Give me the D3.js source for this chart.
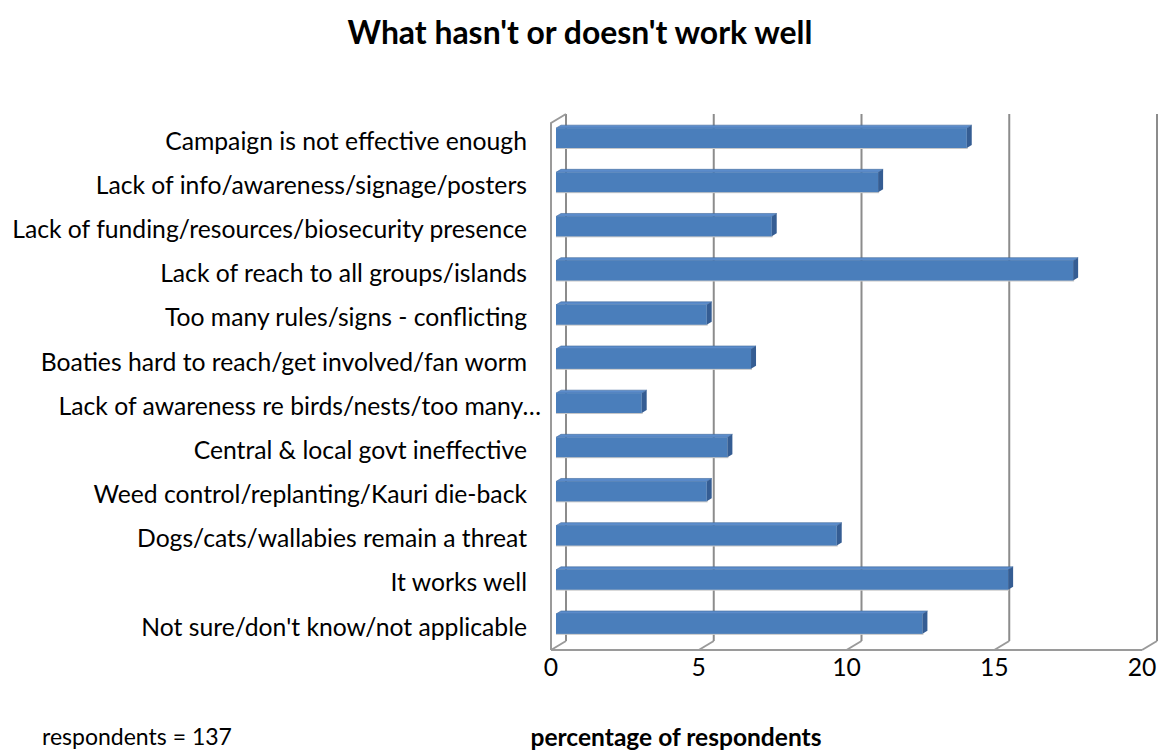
<!DOCTYPE html>
<html><head><meta charset="utf-8">
<script src="https://cdn.jsdelivr.net/npm/d3@7"></script>
<style>html,body{margin:0;padding:0;background:#fff;}svg{display:block;}</style>
</head><body>
<svg id="chart" width="1158" height="751"></svg>
<script>
const title = "What hasn't or doesn't work well";
const categories = [
  "Campaign is not effective enough",
  "Lack of info/awareness/signage/posters",
  "Lack of funding/resources/biosecurity presence",
  "Lack of reach to all groups/islands",
  "Too many rules/signs - conflicting",
  "Boaties hard to reach/get involved/fan worm",
  "Lack of awareness re birds/nests/too many\u2026",
  "Central & local govt ineffective",
  "Weed control/replanting/Kauri die-back",
  "Dogs/cats/wallabies remain a threat",
  "It works well",
  "Not sure/don't know/not applicable"
];
const values = [13.9, 10.9, 7.3, 17.5, 5.1, 6.6, 2.9, 5.8, 5.1, 9.5, 15.3, 12.4];
const tickValues = [0, 5, 10, 15, 20];
const xAxisTitle = "percentage of respondents";
const note = "respondents = 137";

const svg = d3.select("#chart");
const FONT = "Lato, 'Noto Sans', sans-serif";

// geometry
const floorY = 650, topY = 123;
const depth = {dx: 15, dy: -9};
const barOff = {dx: 5, dy: -3};
const barDepth = {dx: 5, dy: -3};
const x = d3.scaleLinear().domain([0, 20]).range([551, 1142]);
const y = d3.scaleBand().domain(categories).range([116, 646]).paddingInner(0.55).paddingOuter(0.275);

const grid = svg.append("g");
grid.selectAll("line.gl").data(tickValues).join("line")
  .attr("x1", d => x(d) + depth.dx).attr("x2", d => x(d) + depth.dx)
  .attr("y1", topY + depth.dy).attr("y2", floorY + depth.dy)
  .attr("stroke", "#8c8c8c").attr("stroke-width", 2);
grid.selectAll("line.fd").data(tickValues).join("line")
  .attr("x1", d => x(d)).attr("y1", floorY)
  .attr("x2", d => x(d) + depth.dx).attr("y2", floorY + depth.dy)
  .attr("stroke", "#9a9a9a").attr("stroke-width", 2);
grid.append("line").attr("x1", x(0)).attr("x2", x(20)).attr("y1", floorY).attr("y2", floorY)
  .attr("stroke", "#9a9a9a").attr("stroke-width", 2);
grid.append("path")
  .attr("d", `M${x(0) + depth.dx},${topY + depth.dy}L${x(0)},${topY}L${x(0)},${floorY}`)
  .attr("fill", "none").attr("stroke", "#9a9a9a").attr("stroke-width", 2);

const bars = svg.append("g").selectAll("g").data(categories).join("g");
const x0 = d => x(0) + barOff.dx;
const x1 = (d, i) => x(values[i]) + barOff.dx;
const yt = d => y(d);
const bw = y.bandwidth();
bars.append("rect")
  .attr("x", d => x0(d)).attr("y", d => yt(d) + 1)
  .attr("width", (d, i) => x1(d, i) - x0(d) + 1).attr("height", bw)
  .attr("fill", "#c8c8c8");
bars.append("path")
  .attr("d", (d, i) => `M${x0(d)},${yt(d)}L${x1(d, i)},${yt(d)}L${x1(d, i) + barDepth.dx},${yt(d) + barDepth.dy}L${x0(d) + barDepth.dx},${yt(d) + barDepth.dy}Z`)
  .attr("fill", "#5b8ccb").attr("stroke", "#41699c").attr("stroke-width", 0.6);
bars.append("path")
  .attr("d", (d, i) => `M${x1(d, i)},${yt(d)}L${x1(d, i) + barDepth.dx},${yt(d) + barDepth.dy}L${x1(d, i) + barDepth.dx},${yt(d) + bw + barDepth.dy}L${x1(d, i)},${yt(d) + bw}Z`)
  .attr("fill", "#355d93");
bars.append("rect")
  .attr("x", d => x0(d)).attr("y", d => yt(d))
  .attr("width", (d, i) => x1(d, i) - x0(d)).attr("height", bw)
  .attr("fill", "#4a7ebb");

function fit(sel, target) {
  const n = sel.node();
  const fs = parseFloat(n.getAttribute("font-size"));
  const w = n.getComputedTextLength();
  sel.attr("font-size", fs * target / w);
}

const labels = svg.append("g").selectAll("text").data(categories).join("text")
  .attr("x", (d, i) => i === 6 ? 541 : 527)
  .attr("y", d => y(d) + bw / 2 + 3)
  .attr("dy", "0.35em")
  .attr("text-anchor", "end")
  .attr("font-family", FONT).attr("font-size", 20).attr("fill", "#000")
  .text(d => d);
const longest = labels.filter((d, i) => i === 2);
const l0 = longest.node().getComputedTextLength();
const labelSize = 20 * 515 / l0;
labels.attr("font-size", labelSize);

svg.append("g").selectAll("text").data(tickValues).join("text")
  .attr("x", d => x(d)).attr("y", 667).attr("dy", "0.35em")
  .attr("text-anchor", "middle")
  .attr("font-family", FONT).attr("font-size", labelSize).attr("fill", "#000")
  .text(d => d);

const t = svg.append("text").attr("x", 580).attr("y", 33).attr("dy", "0.35em")
  .attr("text-anchor", "middle").attr("font-family", FONT).attr("font-weight", "bold")
  .attr("font-size", 24).attr("fill", "#000").text(title);
fit(t, 465);

const n1 = svg.append("text").attr("x", 42).attr("y", 737).attr("dy", "0.35em")
  .attr("font-family", FONT).attr("font-size", 20).attr("fill", "#000").text(note);
fit(n1, 190);

const at = svg.append("text").attr("x", 676).attr("y", 737).attr("dy", "0.35em")
  .attr("text-anchor", "middle").attr("font-family", FONT).attr("font-weight", "bold")
  .attr("font-size", 20).attr("fill", "#000").text(xAxisTitle);
fit(at, 291);
</script>
</body></html>
